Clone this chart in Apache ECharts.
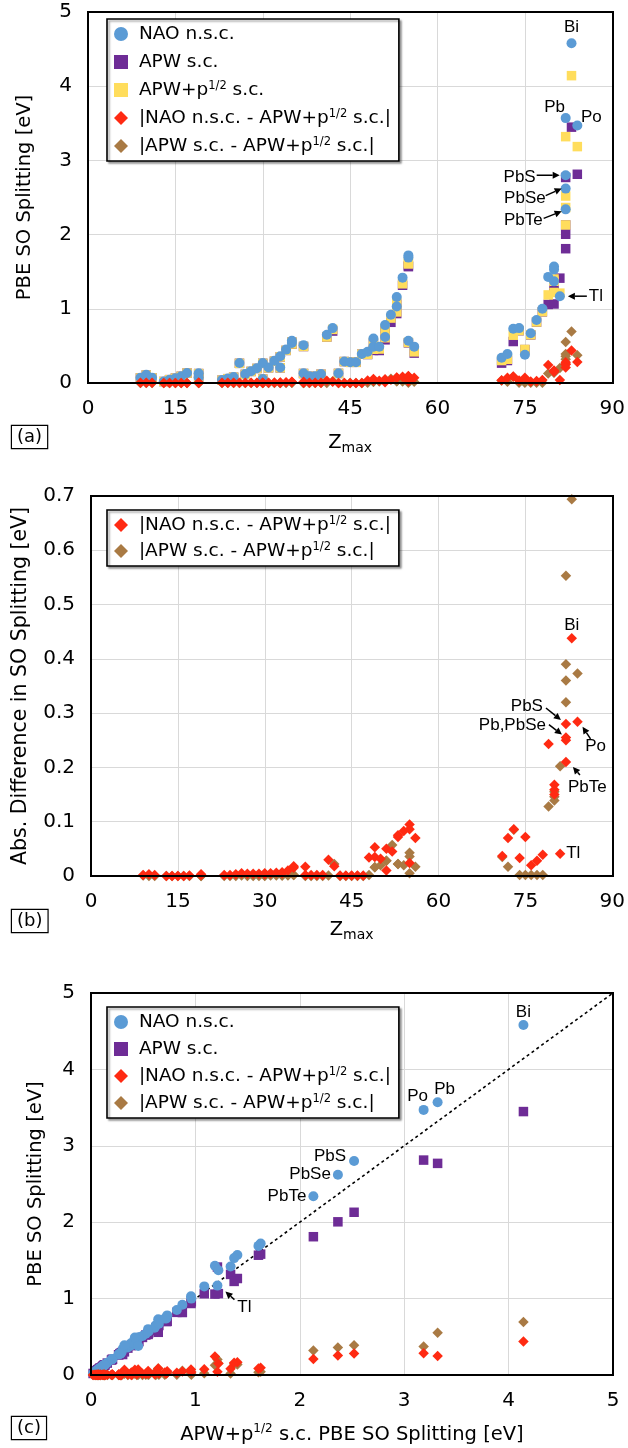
<!DOCTYPE html>
<html><head><meta charset="utf-8">
<script src="https://cdn.jsdelivr.net/npm/echarts@6/dist/echarts.min.js"></script>
<style>html,body{margin:0;padding:0;background:#fff}#c{width:628px;height:1448px}</style>
</head><body><div id="c"></div>
<script>
// ---------------- DATA ----------------
const materialNames = ['','','','','','','','','','',
 '','','','','','','','','','',
 '','','','','','','','','','',
 '','','','','','','','','','',
 '','','','','','','','','','',
 '','','','','','','','','','',
 '','','','','Tl','Pb','PbS','PbSe','PbTe','Bi','Po'];
const zMax = [9,10,11,13,14,15,16,17,19,19,
 23,24,25,26,27,28,29,30,30,31,
 32,33,33,34,35,35,37,37,38,39,
 40,41,42,43,44,45,46,47,48,49,
 49,50,51,51,52,53,53,54,55,55,
 55,56,71,72,73,74,75,76,77,78,
 79,80,80,80,81,82,82,82,82,83,84];
const naoNsc = [0.07,0.11,0.07,0.02,0.045,0.065,0.09,0.135,0.13,0.075,
 0.04,0.06,0.08,0.27,0.12,0.16,0.20,0.27,0.055,0.21,
 0.30,0.21,0.36,0.45,0.54,0.57,0.51,0.13,0.09,0.09,
 0.12,0.65,0.74,0.13,0.29,0.28,0.28,0.39,0.42,0.49,
 0.60,0.49,0.62,0.78,0.92,1.03,1.16,1.42,1.72,1.69,
 0.57,0.49,0.34,0.39,0.73,0.74,0.38,0.67,0.85,1.00,
 1.43,1.57,1.53,1.37,1.17,3.57,2.80,2.62,2.34,4.58,3.47];
const apwpSc = [0.068,0.107,0.068,0.02,0.045,0.065,0.09,0.134,0.127,0.073,
 0.038,0.058,0.077,0.265,0.116,0.156,0.196,0.265,0.052,0.205,
 0.294,0.205,0.353,0.44,0.525,0.552,0.493,0.128,0.088,0.088,
 0.118,0.62,0.722,0.129,0.289,0.279,0.279,0.389,0.386,0.455,
 0.547,0.458,0.61,0.73,0.875,0.958,1.085,1.337,1.625,1.604,
 0.546,0.42,0.303,0.32,0.644,0.707,0.452,0.65,0.822,0.961,
 1.187,1.402,1.371,1.22,1.211,3.32,2.52,2.365,2.13,4.142,3.186];
const apwSc = [0.068,0.107,0.068,0.02,0.045,0.065,0.09,0.134,0.127,0.073,
 0.038,0.058,0.077,0.265,0.116,0.156,0.196,0.265,0.052,0.205,
 0.293,0.204,0.352,0.439,0.523,0.55,0.492,0.128,0.088,0.088,
 0.118,0.62,0.70,0.129,0.289,0.279,0.279,0.389,0.384,0.439,
 0.531,0.438,0.582,0.702,0.818,0.936,1.063,1.317,1.582,1.568,
 0.541,0.403,0.268,0.303,0.559,0.705,0.45,0.648,0.82,0.959,
 1.059,1.263,1.225,1.065,1.413,2.77,2.13,2.005,1.81,3.448,2.813];
const diffNao = [0.002,0.003,0.002,0.000,0.000,0.000,0.000,0.001,0.003,0.002,
 0.002,0.002,0.003,0.005,0.004,0.004,0.004,0.005,0.003,0.005,
 0.006,0.005,0.007,0.010,0.015,0.018,0.017,0.002,0.002,0.002,
 0.002,0.030,0.018,0.001,0.001,0.001,0.001,0.001,0.034,0.035,
 0.053,0.032,0.010,0.050,0.045,0.072,0.075,0.083,0.095,0.086,
 0.024,0.070,0.037,0.070,0.086,0.033,0.072,0.020,0.028,0.039,
 0.243,0.168,0.159,0.150,0.041,0.250,0.280,0.255,0.210,0.438,0.284];
const diffApw = [0.001,0.000,0.000,0.000,0.000,0.000,0.000,0.000,0.000,0.000,
 0.000,0.000,0.000,0.001,0.000,0.000,0.000,0.001,0.000,0.001,
 0.001,0.001,0.001,0.001,0.002,0.002,0.001,0.000,0.000,0.000,
 0.000,0.001,0.022,0.000,0.000,0.000,0.000,0.000,0.002,0.016,
 0.016,0.020,0.028,0.028,0.057,0.022,0.022,0.020,0.043,0.036,
 0.005,0.017,0.035,0.017,0.085,0.002,0.002,0.002,0.002,0.002,
 0.128,0.139,0.146,0.155,0.202,0.553,0.390,0.360,0.320,0.694,0.373];
const diagonal = [[0,0],[5,5]];

// ---------------- STYLE ----------------
const FONT = 'DejaVu Sans';
const AFONT = 'Liberation Sans';
const BLUE='#5b9bd5', PURPLE='#6e2c96', YELLOW='#ffdd5c', RED='#ff2a12', BROWN='#a97a44';
const N_NAO='NAO n.s.c.', N_APW='APW s.c.', N_APWP='APW+p1/2 s.c.',
      N_DN='|NAO n.s.c. - APW+p1/2 s.c.|', N_DA='|APW s.c. - APW+p1/2 s.c.|';

const grids = [
  {left:88, top:12, width:525, height:371},
  {left:91, top:496, width:522, height:380},
  {left:91, top:993, width:522, height:382}
];

const zip = (a,b) => a.map((v,i)=>[v,b[i]]);

function valAxis(gi, min, max, interval, extra){
  return Object.assign({type:'value', gridIndex:gi, min, max, interval,
    axisLine:{show:false}, axisTick:{show:false},
    splitLine:{show:true, lineStyle:{color:'#d9d9d9', width:1}},
    axisLabel:{color:'#000', fontFamily:FONT, fontSize:20, margin:16},
    nameTextStyle:{color:'#000', fontFamily:FONT, fontSize:19.5, lineHeight:24,
      rich:{sub:{fontFamily:FONT, fontSize:14, lineHeight:14, verticalAlign:'bottom', color:'#000'},
            sup:{fontFamily:FONT, fontSize:12, lineHeight:12, verticalAlign:'top', color:'#000'}}}
  }, extra);
}

function sc(name, gi, xs, ys, symbol, size, color, z){
  return {name, type:'scatter', xAxisIndex:gi, yAxisIndex:gi, data: zip(xs, ys),
    symbol, symbolSize:size, itemStyle:{color, opacity:1}, z, silent:true};
}

function legend(gi, top, names, gap){
  const icons = {}; icons[N_NAO]='circle'; icons[N_APW]='rect'; icons[N_APWP]='rect'; icons[N_DN]='diamond'; icons[N_DA]='diamond';
  return {left:107, top, orient:'vertical', selectedMode:false,
    data: names.map(n=>({name:n, icon:icons[n]})),
    itemWidth:14, itemHeight:14, itemGap:gap,
    padding:[5,8,5,7], backgroundColor:'#fff', borderColor:'#000', borderWidth:1.6,
    shadowColor:'rgba(0,0,0,0.35)', shadowBlur:2, shadowOffsetX:2, shadowOffsetY:2,
    formatter: n => ' ' + n.replace('p1/2','p{sup|1/2}'),
    textStyle:{color:'#000', fontFamily:FONT, fontSize:18.5, lineHeight:20,
      rich:{sup:{fontFamily:FONT, fontSize:11.5, lineHeight:11, verticalAlign:'top', color:'#000'}}}
  };
}

const option = {
  animation:false, backgroundColor:'#fff',
  grid: grids.map(g=>Object.assign({containLabel:false}, g)),
  xAxis: [
    valAxis(0,0,90,15,{name:'Z{sub|max}', nameLocation:'middle', nameGap:48}),
    valAxis(1,0,90,15,{name:'Z{sub|max}', nameLocation:'middle', nameGap:42}),
    valAxis(2,0,5,1,{name:'APW+p{sup|1/2} s.c. PBE SO Splitting [eV]', nameLocation:'middle', nameGap:48})
  ],
  yAxis: [
    valAxis(0,0,5,1,{name:'PBE SO Splitting [eV]', nameLocation:'middle', nameGap:51}),
    valAxis(1,0,0.7,0.1,{name:'Abs. Difference in SO Splitting [eV]', nameLocation:'middle', nameGap:54,
      nameTextStyle:{color:'#000', fontFamily:FONT, fontSize:20.5, lineHeight:24},
      axisLabel:{color:'#000', fontFamily:FONT, fontSize:20, margin:16, formatter:v=> v===0?'0':v.toFixed(1)}}),
    valAxis(2,0,5,1,{name:'PBE SO Splitting [eV]', nameLocation:'middle', nameGap:43})
  ],
  legend: [
    legend(0, 19, [N_NAO,N_APW,N_APWP,N_DN,N_DA], 8),
    legend(1, 510, [N_DN,N_DA], 6),
    legend(2, 1007, [N_NAO,N_APW,N_DN,N_DA], 7)
  ],
  series: [
    sc(N_APW, 0, zMax, apwSc, 'rect', 9.5, PURPLE, 2),
    sc(N_APWP, 0, zMax, apwpSc, 'rect', 9.5, YELLOW, 3),
    sc(N_NAO, 0, zMax, naoNsc, 'circle', 10, BLUE, 4),
    sc(N_DA, 0, zMax, diffApw, 'diamond', 10.5, BROWN, 5),
    sc(N_DN, 0, zMax, diffNao, 'diamond', 10.5, RED, 6),

    sc(N_DA, 1, zMax, diffApw, 'diamond', 10.5, BROWN, 5),
    sc(N_DN, 1, zMax, diffNao, 'diamond', 10.5, RED, 6),

    {name:'diag', type:'line', xAxisIndex:2, yAxisIndex:2, data:diagonal, symbol:'none', silent:true,
     lineStyle:{color:'#000', width:1.6, type:[3,3]}, z:1},
    sc(N_APW, 2, apwpSc, apwSc, 'rect', 9.5, PURPLE, 2),
    sc(N_NAO, 2, apwpSc, naoNsc, 'circle', 10, BLUE, 4),
    sc(N_DA, 2, apwpSc, diffApw, 'diamond', 10.5, BROWN, 5),
    sc(N_DN, 2, apwpSc, diffNao, 'diamond', 10.5, RED, 6)
  ]
};

const chart = echarts.init(document.getElementById('c'), null, {renderer:'canvas'});
chart.setOption(option);

// ---------------- ANNOTATIONS ----------------
const panelPoint = [
  i => [zMax[i], naoNsc[i]],
  i => [zMax[i], diffNao[i]],
  i => [apwpSc[i], naoNsc[i]]
];
const annotations = [
  {g:0, m:'Bi', dx:0, dy:-16, align:'center'},
  {g:0, m:'Pb', dx:-11, dy:-11, align:'center'},
  {g:0, m:'Po', dx:14, dy:-8, align:'center'},
  {g:0, m:'PbS', dx:-30, dy:2, align:'right', arrow:[-29,0,-6,0]},
  {g:0, m:'PbSe', dx:-20, dy:10, align:'right', arrow:[-20,7,-4,0]},
  {g:0, m:'PbTe', dx:-23, dy:11, align:'right', arrow:[-22,9,-4,2]},
  {g:0, m:'Tl', dx:29, dy:0, align:'left', arrow:[27,0,8,0]},

  {g:1, m:'Bi', dx:0, dy:-13, align:'center'},
  {g:1, m:'PbS', dx:-23, dy:-18, align:'right', arrow:[-20,-16,-5,-4]},
  {g:1, m:'PbSe', text:'Pb,PbSe', dx:-20, dy:-12, align:'right', arrow:[-17,-13,-4,-3]},
  {g:1, m:'Po', dx:18, dy:24, align:'center', arrow:[13,17,5,5]},
  {g:1, m:'PbTe', dx:2, dy:25, align:'left', arrow:[14,13,7,5]},
  {g:1, m:'Tl', dx:6, dy:0, align:'left'},

  {g:2, m:'Bi', dx:0, dy:-13, align:'center'},
  {g:2, m:'Pb', dx:7, dy:-13, align:'center'},
  {g:2, m:'Po', dx:-6, dy:-14, align:'center'},
  {g:2, m:'PbS', dx:-8, dy:-5, align:'right'},
  {g:2, m:'PbSe', dx:-7, dy:-1, align:'right'},
  {g:2, m:'PbTe', dx:-7, dy:0, align:'right'},
  {g:2, m:'Tl', dx:27, dy:22, align:'center', arrow:[17,14,8,6]}
];

function arrowEls(x0,y0,x1,y1){
  const ang = Math.atan2(y1-y0, x1-x0), L=7, W=3.5;
  const bx = x1-L*Math.cos(ang), by = y1-L*Math.sin(ang);
  const nx = -Math.sin(ang), ny = Math.cos(ang);
  return [
    {type:'line', shape:{x1:x0,y1:y0,x2:bx,y2:by}, style:{stroke:'#000', lineWidth:1.5}, z:100, silent:true},
    {type:'polygon', shape:{points:[[x1,y1],[bx+nx*W,by+ny*W],[bx-nx*W,by-ny*W]]}, style:{fill:'#000'}, z:100, silent:true}
  ];
}

const gfx = [];
annotations.forEach(a=>{
  const i = materialNames.indexOf(a.m);
  const p = chart.convertToPixel({gridIndex:a.g}, panelPoint[a.g](i));
  gfx.push({type:'text', x:p[0]+a.dx, y:p[1]+a.dy, z:100, silent:true,
    style:{text:a.text||a.m, fill:'#000', font:'17px "'+AFONT+'"', align:a.align, verticalAlign:'middle'}});
  if (a.arrow){ arrowEls(p[0]+a.arrow[0], p[1]+a.arrow[1], p[0]+a.arrow[2], p[1]+a.arrow[3]).forEach(e=>gfx.push(e)); }
});
grids.forEach(g=>{
  gfx.push({type:'rect', shape:{x:g.left, y:g.top, width:g.width, height:g.height}, z:90, silent:true,
    style:{fill:null, stroke:'#000', lineWidth:2}});
});
[['(a)',426],['(b)',910],['(c)',1417]].forEach(t=>{
  gfx.push({type:'text', x:12, y:t[1], z:100, silent:true,
    style:{text:t[0], fill:'#000', font:'18px "'+FONT+'"', padding:[2,5,2,5], borderColor:'#000', borderWidth:1.2, backgroundColor:'#fff'}});
});
chart.setOption({graphic: gfx});
</script>
</body></html>
